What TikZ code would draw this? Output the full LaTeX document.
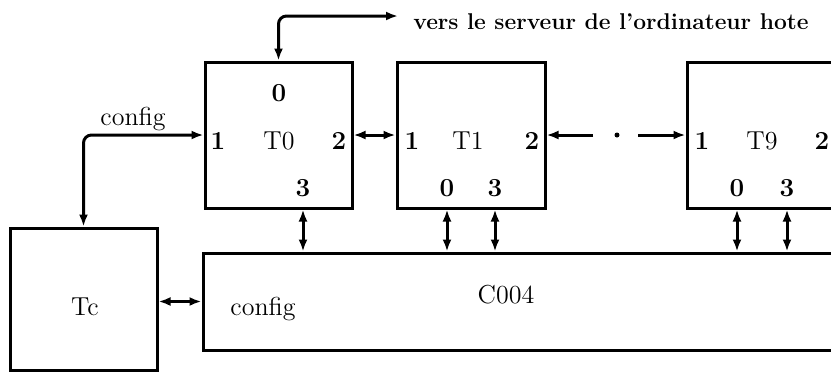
\documentclass[tikz,border=0pt]{standalone}
\usetikzlibrary{arrows.meta}
\begin{document}
\begin{tikzpicture}[x=0.5pt,y=-0.5pt,
  box/.style={draw, line width=1.5pt, inner sep=0pt},
  lbl/.style={inner sep=0pt, anchor=base, font=\fontsize{13}{15}\selectfont},
  port/.style={inner sep=0pt, anchor=base, font=\fontsize{13}{15}\selectfont\bfseries},
  toptext/.style={inner sep=0pt, anchor=base west, font=\fontsize{11.4}{13}\selectfont\bfseries},
  dbl/.style={line width=1.5pt, {Latex[length=6pt,width=4.5pt]}-{Latex[length=6pt,width=4.5pt]}},
  sgl/.style={line width=1.5pt, -{Latex[length=6pt,width=4.5pt]}},
]
\useasboundingbox (0,0) rectangle (831,372);
\clip (0,0) rectangle (831,372);

% boxes
\node[box, minimum width=73.5pt, minimum height=73pt] (T0) at (278.5,135) {};
\node[box, minimum width=74pt, minimum height=73pt] (T1) at (471,135) {};
\node[box, minimum width=73.5pt, minimum height=73pt] (T9) at (760.5,135) {};
\node[box, minimum width=73.5pt, minimum height=71pt] (Tc) at (83.5,299) {};
\node[box, minimum width=330pt, minimum height=48.5pt] (C) at (533,301.5) {};

% T0 labels
\node[port] (t0p0) at (279,101) {0};
\node[port] (t0p1) at (218,149) {1};
\node[lbl]  (t0n)  at (279,149) {T0};
\node[port] (t0p2) at (339,149) {2};
\node[port] (t0p3) at (303,196) {3};

% T1 labels
\node[port] (t1p1) at (412,149) {1};
\node[lbl]  (t1n)  at (468,149) {T1};
\node[port] (t1p2) at (532,149) {2};
\node[port] (t1p0) at (447,196) {0};
\node[port] (t1p3) at (495,196) {3};

% T9 labels
\node[port] (t9p1) at (702,149) {1};
\node[lbl]  (t9n)  at (762,149) {T9};
\node[port] (t9p2) at (822,149) {2};
\node[port] (t9p0) at (737,196) {0};
\node[port] (t9p3) at (787,196) {3};

% other labels
\node[lbl] (tcn) at (85,315) {Tc};
\node[lbl] (cfgC) at (263,315) {config};
\node[lbl] (cn) at (506,303) {C004};
\node[lbl] (cfgT) at (133,125) {config};
\node[toptext] (srvtext) at (413,29) {vers le serveur de l'ordinateur hote};

% connectors
\coordinate (srv) at (398,16);
\draw[dbl, rounded corners=4pt] (T0.north) |- (srv);
\draw[dbl, rounded corners=4pt] (T0.west) -| (Tc.north);
\draw[dbl] (T0.east) -- (T1.west);
\coordinate (d1) at (593,135);
\coordinate (d2) at (638,135);
\draw[sgl] (d1) -- (d1 -| T1.east);
\node[circle, fill, inner sep=0pt, minimum size=2.5pt] (dot) at (617,135) {};
\draw[sgl] (d2) -- (d2 -| T9.west);
\draw[dbl] (t0p3 |- T0.south) -- (t0p3 |- C.north);
\draw[dbl] (t1p0 |- T1.south) -- (t1p0 |- C.north);
\draw[dbl] (t1p3 |- T1.south) -- (t1p3 |- C.north);
\draw[dbl] (t9p0 |- T9.south) -- (t9p0 |- C.north);
\draw[dbl] (t9p3 |- T9.south) -- (t9p3 |- C.north);
\draw[dbl] (C.west -| Tc.east) -- (C.west);
\end{tikzpicture}
\end{document}
